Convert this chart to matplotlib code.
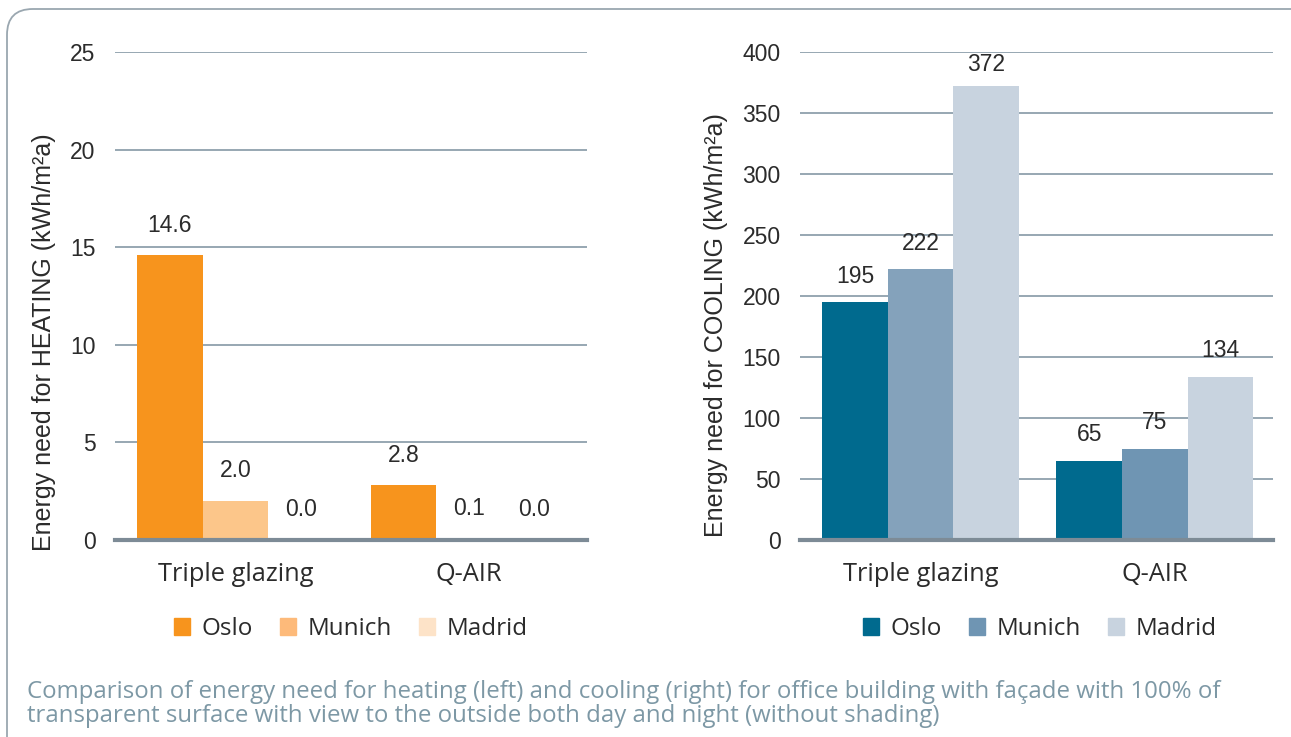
import matplotlib
matplotlib.use("Agg")
import matplotlib.pyplot as plt
from matplotlib.patches import FancyBboxPatch, Patch
import numpy as np

plt.rcParams['font.family'] = ['Open Sans', 'DejaVu Sans']
ARIAL = ['Liberation Sans', 'DejaVu Sans']

categories = ["Triple glazing", "Q-AIR"]
cities = ["Oslo", "Munich", "Madrid"]
heating = {"Oslo": [14.6, 2.8], "Munich": [2.0, 0.1], "Madrid": [0.0, 0.0]}
cooling = {"Oslo": [195, 65], "Munich": [222, 75], "Madrid": [372, 134]}
heat_labels = {"Oslo": ["14.6", "2.8"], "Munich": ["2.0", "0.1"], "Madrid": ["0.0", "0.0"]}
cool_labels = {"Oslo": ["195", "65"], "Munich": ["222", "75"], "Madrid": ["372", "134"]}

heat_colors = {"Oslo": "#f7941d", "Munich": "#fcc68a", "Madrid": "#fde3c8"}
heat_legend_colors = {"Oslo": "#f7941d", "Munich": "#fdba7a", "Madrid": "#fde3c8"}
cool_colors = {"Oslo": ["#006a8e", "#006a8e"], "Munich": ["#84a2bb", "#6f95b3"], "Madrid": ["#c8d3df", "#c8d3df"]}
cool_legend_colors = {"Oslo": "#006a8e", "Munich": "#6f95b3", "Madrid": "#c8d3df"}

W, H = 1291, 737
fig = plt.figure(figsize=(W / 100, H / 100), dpi=100)

# rounded frame
frame = FancyBboxPatch((7 / W, -0.05), 1.2, 1 - 9 / H + 0.05,
                       boxstyle="round,pad=0,rounding_size=0.02",
                       transform=fig.transFigure, fill=False,
                       edgecolor="#9aa7b0", linewidth=1.3, mutation_aspect=W / H)
fig.patches.append(frame)

text_color = "#2b2b2b"
grid_color = "#8fa0ad"
spine_color = "#7d8b96"

def setup(ax, ymax, step, ylabel, lab_xy):
    ax.set_ylim(0, ymax)
    ax.set_xlim(-0.515, 1.505)
    ax.set_yticks(np.arange(0, ymax + 0.001, step))
    ax.yaxis.grid(True, color=grid_color, linewidth=1.3)
    ax.set_axisbelow(True)
    for s in ["top", "right", "left"]:
        ax.spines[s].set_visible(False)
    ax.spines["bottom"].set_color(spine_color)
    ax.spines["bottom"].set_linewidth(3)
    ax.spines["bottom"].set_zorder(5)
    ax.tick_params(axis="y", length=0, pad=14, labelsize=16.5, labelcolor=text_color)
    ax.tick_params(axis="x", length=0, pad=16, labelsize=18.3, labelcolor=text_color)
    for t in ax.get_yticklabels():
        t.set_family(ARIAL)
    ax.set_xticks(range(len(categories)))
    ax.set_xticklabels(categories)
    ax.set_ylabel(ylabel, fontsize=18, color=text_color, family=ARIAL)
    ax.yaxis.set_label_coords(*lab_xy)

bw = 0.28
x = np.arange(len(categories))

ax1 = fig.add_axes([115 / W, 1 - 540 / H, 472 / W, 488 / H])
setup(ax1, 25, 5, "Energy need for HEATING (kWh/m²a)", (-0.124, 0.406))
for i, c in enumerate(cities):
    xs = x + (i - 1) * bw
    ax1.bar(xs, heating[c], width=bw, color=heat_colors[c], zorder=3)
    for xi, v, lab in zip(xs, heating[c], heat_labels[c]):
        ax1.annotate(lab, (xi, v), xytext=(0, 30), textcoords="offset pixels",
                     ha="center", va="center", fontsize=16.5, color=text_color,
                     family=ARIAL)
leg1 = ax1.legend(handles=[Patch(color=heat_legend_colors[c], label=c) for c in cities],
                  loc="center", bbox_to_anchor=(351 / W, 1 - 629 / H),
                  bbox_transform=fig.transFigure, ncol=3, frameon=False,
                  fontsize=17.5, handlelength=0.65, handleheight=0.65,
                  handletextpad=0.5, columnspacing=1.1, labelcolor=text_color)

ax2 = fig.add_axes([800 / W, 1 - 540 / H, 473 / W, 488 / H])
setup(ax2, 400, 50, "Energy need for COOLING (kWh/m²a)", (-0.152, 0.44))
for i, c in enumerate(cities):
    xs = x + (i - 1) * bw
    ax2.bar(xs, cooling[c], width=bw, color=cool_colors[c], zorder=3)
    for xi, v, lab in zip(xs, cooling[c], cool_labels[c]):
        off = 26 if v < 350 else 22
        ax2.annotate(lab, (xi, v), xytext=(0, off), textcoords="offset pixels",
                     ha="center", va="center", fontsize=16.5, color=text_color,
                     family=ARIAL)
leg2 = ax2.legend(handles=[Patch(color=cool_legend_colors[c], label=c) for c in cities],
                  loc="center", bbox_to_anchor=(1040 / W, 1 - 629 / H),
                  bbox_transform=fig.transFigure, ncol=3, frameon=False,
                  fontsize=17.5, handlelength=0.65, handleheight=0.65,
                  handletextpad=0.5, columnspacing=1.1, labelcolor=text_color)

caption = ("Comparison of energy need for heating (left) and cooling (right) for office building with façade with 100% of\n"
           "transparent surface with view to the outside both day and night (without shading)")
fig.text(27 / W, 1 - 680 / H, caption, ha="left", va="top", fontsize=17.3,
         color="#7d98a5", linespacing=1.02)

fig.savefig("out.png", dpi=100)
